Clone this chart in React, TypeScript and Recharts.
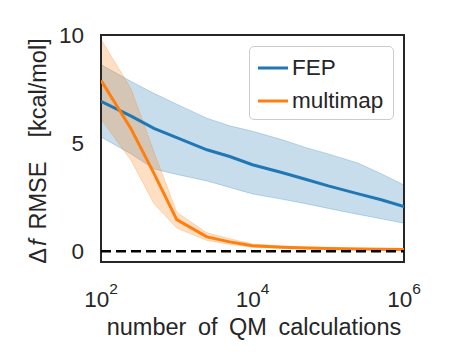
import React from 'react';
import {
  ComposedChart,
  Area,
  Line,
  XAxis,
  YAxis,
  ReferenceLine,
  ReferenceArea,
  Legend,
} from 'recharts';

// Number of QM calculations (log-spaced sample points)
const calcs = [100, 250, 500, 1000, 2500, 5000, 10000, 25000, 50000, 100000, 250000, 500000, 1000000];

// FEP: mean RMSE and its spread
const fepMean = [6.93, 6.25, 5.68, 5.25, 4.69, 4.38, 4.0, 3.63, 3.33, 3.02, 2.65, 2.38, 2.06];
const fepHigh = [8.63, 7.85, 7.3, 6.8, 6.15, 5.8, 5.55, 5.15, 4.8, 4.5, 4.07, 3.58, 3.06];
const fepLow = [5.28, 4.5, 3.8, 3.55, 3.25, 2.95, 2.65, 2.4, 2.2, 1.98, 1.7, 1.5, 1.29];

// multimap: mean RMSE and its spread
const mmMean = [7.9, 5.65, 3.6, 1.46, 0.66, 0.43, 0.25, 0.18, 0.15, 0.12, 0.1, 0.09, 0.08];
const mmHigh = [9.8, 7.5, 4.6, 1.8, 0.85, 0.58, 0.33, 0.24, 0.2, 0.16, 0.14, 0.12, 0.11];
const mmLow = [6.1, 4.2, 2.2, 1.07, 0.5, 0.32, 0.18, 0.13, 0.11, 0.09, 0.07, 0.06, 0.05];

const xTicks = [100, 10000, 1000000];
const yTicks = [0, 5, 10];

const seriesNames = ['FEP', 'multimap'];
const BLUE = '#1f77b4';
const ORANGE = '#ff7f0e';
const INK = '#262626';
const FONT = '"Liberation Sans", Arial, sans-serif';

const data = calcs.map((n, i) => ({
  n,
  fep: fepMean[i],
  fepBand: [fepLow[i], fepHigh[i]],
  mm: mmMean[i],
  mmBand: [mmLow[i], mmHigh[i]],
}));

const PowTick = (props: any) => {
  const { x, y, payload } = props;
  const exp = Math.round(Math.log10(payload.value));
  return (
    <text x={x} y={y + 43} textAnchor="middle" fill={INK} fontFamily={FONT} fontSize={22.5}>
      <tspan>10</tspan>
      <tspan dy={-13} fontSize={15.5}>{exp}</tspan>
    </text>
  );
};

const NumTick = (props: any) => {
  const { x, y, payload } = props;
  return (
    <text x={x} y={y + 8} textAnchor="end" fill={INK} fontFamily={FONT} fontSize={22.5}>
      {payload.value}
    </text>
  );
};

const XLabel = (props: any) => {
  const vb = props.viewBox || { x: 101, y: 262, width: 303 };
  const cx = vb.x + vb.width / 2 + 1.5;
  return (
    <text x={cx} y={335} textAnchor="middle" fill={INK} fontFamily={FONT} fontSize={23.5} wordSpacing={5}>
      number of QM calculations
    </text>
  );
};

const YLabel = () => {
  const bx = 46;
  const cy = 151;
  return (
    <text
      x={bx}
      y={cy}
      transform={`rotate(-90, ${bx}, ${cy})`}
      textAnchor="middle"
      fill={INK}
      fontFamily={FONT}
      fontSize={23.5}
    >
      <tspan>Δ</tspan><tspan fontStyle="italic" dx={2}>f</tspan><tspan dx={10}>RMSE</tspan><tspan dx={24}>[kcal/mol]</tspan>
    </text>
  );
};

const LegendBox = () => {
  const colors = [BLUE, ORANGE];
  return (
    <div
      style={{
        boxSizing: 'border-box',
        width: 145,
        height: 74,
        border: '1.5px solid #cccccc',
        borderRadius: 5,
        background: 'rgba(255,255,255,0.8)',
        fontFamily: FONT,
        fontSize: 22.5,
        color: INK,
        paddingTop: 4,
      }}
    >
      {seriesNames.map((name, i) => (
        <div key={name} style={{ display: 'flex', alignItems: 'center', height: 33, marginLeft: 8 }}>
          <svg width={30} height={4} style={{ marginRight: 4 }}>
            <line x1={0} y1={2} x2={30} y2={2} stroke={colors[i]} strokeWidth={3} />
          </svg>
          <span style={{ lineHeight: '33px' }}>{name}</span>
        </div>
      ))}
    </div>
  );
};

export default function App() {
  return (
    <div style={{ position: 'absolute', left: 0, top: 0, width: 450, height: 364, background: '#fff' }}>
      <ComposedChart
        width={450}
        height={364}
        data={data}
        margin={{ top: 35, right: 46, bottom: 42, left: 0 }}
      >
        <XAxis
          dataKey="n"
          type="number"
          scale="log"
          domain={[100, 1000000]}
          ticks={xTicks}
          allowDataOverflow
          axisLine={false}
          tickLine={false}
          tickSize={0}
          height={60}
          tick={<PowTick />}
          label={<XLabel />}
        />
        <YAxis
          type="number"
          domain={[-0.5, 10]}
          ticks={yTicks}
          allowDataOverflow
          axisLine={false}
          tickLine={false}
          tickSize={0}
          tickMargin={17}
          width={101}
          tick={<NumTick />}
          label={<YLabel />}
        />
        <Area
          type="linear"
          dataKey="fepBand"
          stroke={BLUE}
          strokeOpacity={0.25}
          strokeWidth={1}
          fill={BLUE}
          fillOpacity={0.25}
          isAnimationActive={false}
          legendType="none"
          activeDot={false}
        />
        <Line
          type="linear"
          dataKey="fep"
          name="FEP"
          stroke={BLUE}
          strokeWidth={3}
          dot={false}
          activeDot={false}
          isAnimationActive={false}
        />
        <Area
          type="linear"
          dataKey="mmBand"
          stroke={ORANGE}
          strokeOpacity={0.25}
          strokeWidth={1}
          fill={ORANGE}
          fillOpacity={0.25}
          isAnimationActive={false}
          legendType="none"
          activeDot={false}
        />
        <Line
          type="linear"
          dataKey="mm"
          name="multimap"
          stroke={ORANGE}
          strokeWidth={3}
          dot={false}
          activeDot={false}
          isAnimationActive={false}
        />
        <ReferenceLine y={0} stroke="#000" strokeWidth={2.5} strokeDasharray="10 5" />
        <ReferenceArea x1={100} x2={1000000} y1={-0.5} y2={10} fill="none" stroke={INK} strokeWidth={2} />
        <Legend
          layout="vertical"
          align="center"
          verticalAlign="middle"
          content={<LegendBox />}
          wrapperStyle={{ position: 'absolute', left: 249, top: 46, width: 145, height: 74 }}
        />
      </ComposedChart>
    </div>
  );
}
